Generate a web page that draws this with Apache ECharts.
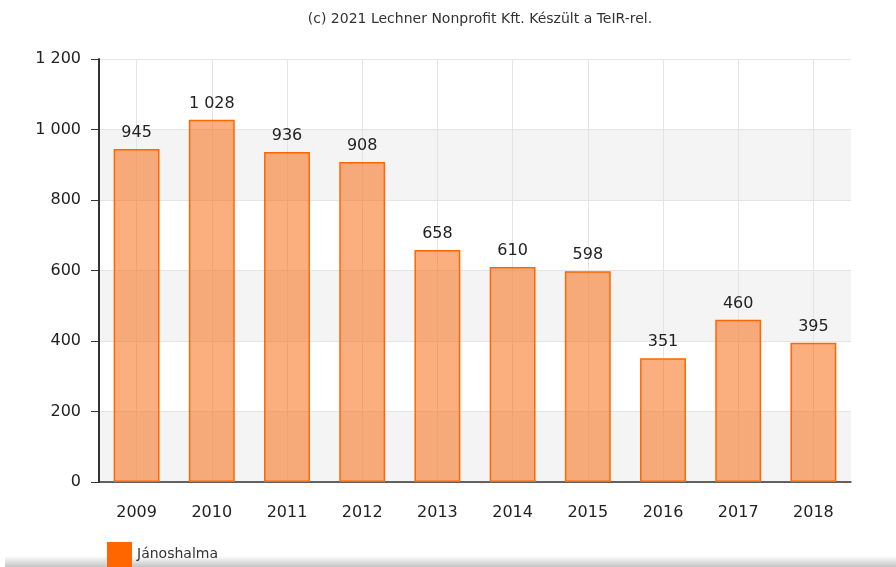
<!DOCTYPE html>
<html>
<head>
<meta charset="utf-8">
<script src="https://cdn.jsdelivr.net/npm/echarts@6/dist/echarts.min.js"></script>
<style>
  html, body { margin: 0; padding: 0; background: #fff; }
  #chart { width: 896px; height: 567px; }
</style>
</head>
<body>
<div id="chart"></div>
<script>
// évek és értékek (Jánoshalma)
const years = ['2009', '2010', '2011', '2012', '2013', '2014', '2015', '2016', '2017', '2018'];
const values = [945, 1028, 936, 908, 658, 610, 598, 351, 460, 395];
const seriesName = 'Jánoshalma';
const titleText = '(c) 2021 Lechner Nonprofit Kft. Készült a TeIR-rel.';

// ezres elválasztó szóközzel
const fmt = v => String(v).replace(/\B(?=(\d{3})+(?!\d))/g, ' ');

const chart = echarts.init(document.getElementById('chart'));
const font = 'DejaVu Sans, Verdana, sans-serif';

chart.setOption({
  animation: false,
  title: {
    text: titleText,
    left: 475,
    textAlign: 'center',
    top: 7,
    textStyle: { fontSize: 14, fontWeight: 'normal', color: '#333', fontFamily: font }
  },
  legend: {
    data: [seriesName],
    left: 102,
    top: 537,
    icon: 'rect',
    itemWidth: 25,
    itemHeight: 25,
    itemGap: 6,
    itemStyle: { color: '#ff6600', borderWidth: 0 },
    textStyle: { fontSize: 14, color: '#333', fontFamily: font }
  },
  graphic: [{
    type: 'rect',
    z: -1,
    shape: { x: 5, y: 556, width: 891, height: 11 },
    style: {
      fill: new echarts.graphic.LinearGradient(0, 0, 0, 1, [
        { offset: 0, color: '#ffffff' },
        { offset: 1, color: '#c4c4c4' }
      ])
    }
  }],
  grid: { left: 99, right: 45, top: 59, bottom: 85 },
  xAxis: {
    type: 'category',
    data: years,
    axisLine: { lineStyle: { color: '#333', width: 1.5 } },
    axisTick: { alignWithLabel: true, length: 7, lineStyle: { color: '#333' } },
    axisLabel: { margin: 23, fontSize: 16, color: '#222', fontFamily: font },
    splitLine: { show: true, alignWithLabel: true, lineStyle: { color: '#e4e4e4' } }
  },
  yAxis: {
    type: 'value',
    min: 0,
    max: 1200,
    interval: 200,
    axisLine: { show: true, lineStyle: { color: '#333', width: 2 } },
    axisTick: { show: true, length: 8, lineStyle: { color: '#333' } },
    axisLabel: { margin: 18, fontSize: 16, color: '#222', fontFamily: font, formatter: fmt },
    splitLine: { lineStyle: { color: '#e4e4e4' } },
    splitArea: { show: true, areaStyle: { color: ['#f4f4f4', '#ffffff'] } }
  },
  series: [{
    name: seriesName,
    type: 'bar',
    data: values,
    barWidth: '61%',
    itemStyle: {
      color: 'rgba(248, 112, 25, 0.56)',
      borderColor: '#ff6600',
      borderWidth: 1.5
    },
    label: {
      show: true,
      position: 'top',
      distance: 8,
      fontSize: 16,
      color: '#222',
      fontFamily: font,
      formatter: p => fmt(p.value)
    }
  }]
});
</script>
</body>
</html>
